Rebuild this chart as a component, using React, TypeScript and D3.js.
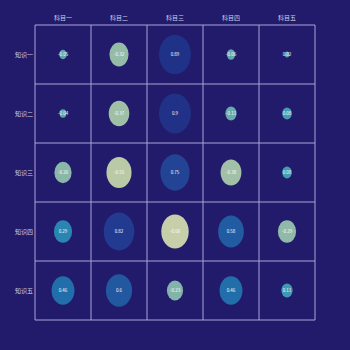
import React from "react";
import * as d3 from "d3";

const subjects = ["科目一", "科目二", "科目三", "科目四", "科目五"];
const knowledge = ["知识一", "知识二", "知识三", "知识四", "知识五"];
const row1 = [-0.05, -0.32, 0.89, -0.06, 0.02];
const row2 = [-0.04, -0.37, 0.9, -0.11, 0.08];
const row3 = [-0.26, -0.55, 0.75, -0.38, 0.08];
const row4 = [0.29, 0.82, -0.66, 0.58, -0.29];
const row5 = [0.46, 0.6, -0.23, 0.46, 0.11];
const values = [row1, row2, row3, row4, row5];

const W = 350;
const H = 350;
const margin = { left: 35, right: 35, top: 25, bottom: 30 };

export default function App() {
  const x = d3.scaleBand().domain(subjects).range([margin.left, W - margin.right]);
  const y = d3.scaleBand().domain(knowledge).range([margin.top, H - margin.bottom]);
  const size = d3.scaleSqrt().domain([0, 1]).range([0, 1]);
  const color = d3.scaleSequential(d3.interpolateYlGnBu).domain([-0.92, 1.16]);
  const bw = x.bandwidth();
  const bh = y.bandwidth();
  const rxK = 16.9;
  const ryK = 21;

  const cells: any[] = [];
  knowledge.forEach((k, i) => {
    subjects.forEach((s, j) => {
      cells.push({ k, s, v: values[i][j] });
    });
  });

  const xLines = [...subjects.map((s) => x(s) as number), W - margin.right];
  const yLines = [...knowledge.map((k) => y(k) as number), H - margin.bottom];

  return (
    <svg
      width={W}
      height={H}
      style={{ position: "fixed", left: 0, top: 0, background: "#221a6a" }}
      fontFamily="'Noto Sans CJK SC', 'Noto Sans', sans-serif"
    >
      <rect x={0} y={0} width={W} height={H} fill="#221a6a" />
      {cells.map((c, idx) => {
        const cx = (x(c.s) as number) + bw / 2;
        const cy = (y(c.k) as number) + bh / 2;
        const r = size(Math.abs(c.v));
        return (
          <g key={idx}>
            <ellipse
              cx={cx}
              cy={cy}
              rx={r * rxK}
              ry={r * ryK}
              fill={color(c.v)}
              fillOpacity={0.82}
            />
            <text
              x={cx}
              y={cy}
              dy="0.35em"
              textAnchor="middle"
              fontSize={4.5}
              fill="#ffffff"
            >
              {String(c.v)}
            </text>
          </g>
        );
      })}
      {xLines.map((xv, i) => (
        <line
          key={"vx" + i}
          x1={xv}
          x2={xv}
          y1={margin.top}
          y2={H - margin.bottom}
          stroke="#a9a5d8"
          strokeWidth={1}
        />
      ))}
      {yLines.map((yv, i) => (
        <line
          key={"hy" + i}
          x1={margin.left}
          x2={W - margin.right}
          y1={yv}
          y2={yv}
          stroke="#a9a5d8"
          strokeWidth={1}
        />
      ))}
      {subjects.map((s) => (
        <text
          key={s}
          x={(x(s) as number) + bw / 2}
          y={18}
          dy="0.35em"
          textAnchor="middle"
          fontSize={6}
          fill="#d2d0e6"
        >
          {s}
        </text>
      ))}
      {knowledge.map((k) => (
        <text
          key={k}
          x={33}
          y={(y(k) as number) + bh / 2}
          dy="0.35em"
          textAnchor="end"
          fontSize={6}
          fill="#d2d0e6"
        >
          {k}
        </text>
      ))}
    </svg>
  );
}
